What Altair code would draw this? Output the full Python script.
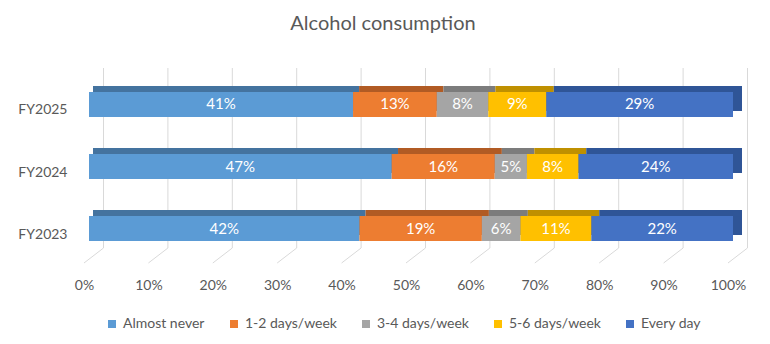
import altair as alt
import pandas as pd

years = ["FY2025", "FY2024", "FY2023"]
categories = ["Almost never", "1-2 days/week", "3-4 days/week", "5-6 days/week", "Every day"]
fy2025 = [41, 13, 8, 9, 29]
fy2024 = [47, 16, 5, 8, 24]
fy2023 = [42, 19, 6, 11, 22]
front_colors = ["#5B9BD5", "#ED7D31", "#A5A5A5", "#FFC000", "#4472C4"]
shade_colors = ["#44739F", "#B15B24", "#7C7C7C", "#BF9000", "#2F5597"]
ticks = [0, 10, 20, 30, 40, 50, 60, 70, 80, 90, 100]

rows = []
for yr, vals in zip(years, [fy2025, fy2024, fy2023]):
    start = 0
    for cat, v, sc in zip(categories, vals, shade_colors):
        rows.append(dict(year=yr, cat=cat, value=v, start=start, end=start + v,
                         mid=start + v / 2, label=f"{v}%", shade=sc))
        start += v
df = pd.DataFrame(rows)
grid = pd.DataFrame({"t": ticks})

W, H = 644, 195
FONT = "Lato"
GREY = "#595959"
DEPTH_X = 19.5  # pixel depth of the 3D back wall (x)
DEPTH_Y = 15    # pixel depth of the 3D floor (y)

axis_scale = alt.Scale(domain=[0, 100], range=[0, W], nice=False, zero=False)
front_scale = alt.Scale(domain=[0, 100], range=[5, 649], nice=False, zero=False)
back_scale = alt.Scale(domain=[0, 100], range=[9, 658], nice=False, zero=False)
y_scale = alt.Scale(domain=years, range=[24, 173], paddingInner=0.597, paddingOuter=0)
wall_scale = alt.Scale(domain=[0, H], range=[H, 0], nice=False, zero=False)
y_axis = alt.Axis(title=None, ticks=False, domain=False, labelPadding=17, labelOffset=6,
                  labelFontSize=14, labelColor=GREY, labelFont=FONT)
x_axis = alt.Axis(values=ticks, labelExpr="datum.value + '%'", title=None, grid=False,
                  ticks=False, domain=False, labelPadding=15, labelFontSize=14,
                  labelColor=GREY, labelFont=FONT, labelFlush=False)

back_grid = alt.Chart(grid).transform_calculate(
    lo=f"{DEPTH_Y}", hi=f"{H}"
).mark_rule(color="#D9D9D9", strokeWidth=1, xOffset=DEPTH_X).encode(
    x=alt.X("t:Q", scale=axis_scale, axis=x_axis),
    y=alt.Y("lo:Q", scale=wall_scale, axis=None),
    y2="hi:Q",
)

floor = alt.Chart(grid).transform_calculate(
    tb=f"datum.t + {DEPTH_X} * 100 / {W}", lo="0", hi=f"{DEPTH_Y}"
).mark_rule(color="#D9D9D9", strokeWidth=1).encode(
    x=alt.X("t:Q", scale=axis_scale, axis=x_axis),
    x2="tb:Q",
    y=alt.Y("lo:Q", scale=wall_scale, axis=None),
    y2="hi:Q",
)

walls = alt.layer(back_grid, floor)

back_bars = alt.Chart(df).mark_bar(yOffset=-6, y2Offset=-6, strokeWidth=0).encode(
    x=alt.X("start:Q", scale=back_scale, axis=None),
    x2="end:Q",
    y=alt.Y("year:N", scale=y_scale, sort=years, axis=y_axis),
    color=alt.Color("shade:N", scale=None),
)

front_bars = alt.Chart(df).mark_bar(strokeWidth=0).encode(
    x=alt.X("start:Q", scale=front_scale, axis=None),
    x2="end:Q",
    y=alt.Y("year:N", scale=y_scale, sort=years, axis=y_axis),
    color=alt.Color("cat:N", scale=alt.Scale(domain=categories, range=front_colors),
                    legend=alt.Legend(title=None, orient="none", direction="horizontal",
                                      legendX=21, legendY=249, symbolType="square",
                                      symbolSize=64, symbolStrokeWidth=0, labelFontSize=14,
                                      labelColor=GREY, labelFont=FONT, columnPadding=22,
                                      labelOffset=4, padding=0)),
)

labels = alt.Chart(df).mark_text(color="white", fontSize=15, font=FONT).encode(
    x=alt.X("mid:Q", scale=front_scale, axis=None),
    y=alt.Y("year:N", scale=y_scale, sort=years, axis=y_axis),
    text="label:N",
)

bars = alt.layer(back_bars, front_bars, labels).resolve_scale(x="independent")

chart = alt.layer(walls, bars).resolve_scale(
    x="independent", y="independent"
).properties(
    width=W,
    height=H,
    title=alt.Title("Alcohol consumption", fontSize=20, font=FONT, color=GREY,
                    fontWeight="normal", anchor="middle", dx=-23, offset=34),
    autosize=alt.AutoSizeParams(type="none"),
    padding={"left": 84, "top": 68, "right": 42, "bottom": 81},
).configure_view(stroke=None)

chart.save("out.html", embed_options={"renderer": "svg", "actions": False})
